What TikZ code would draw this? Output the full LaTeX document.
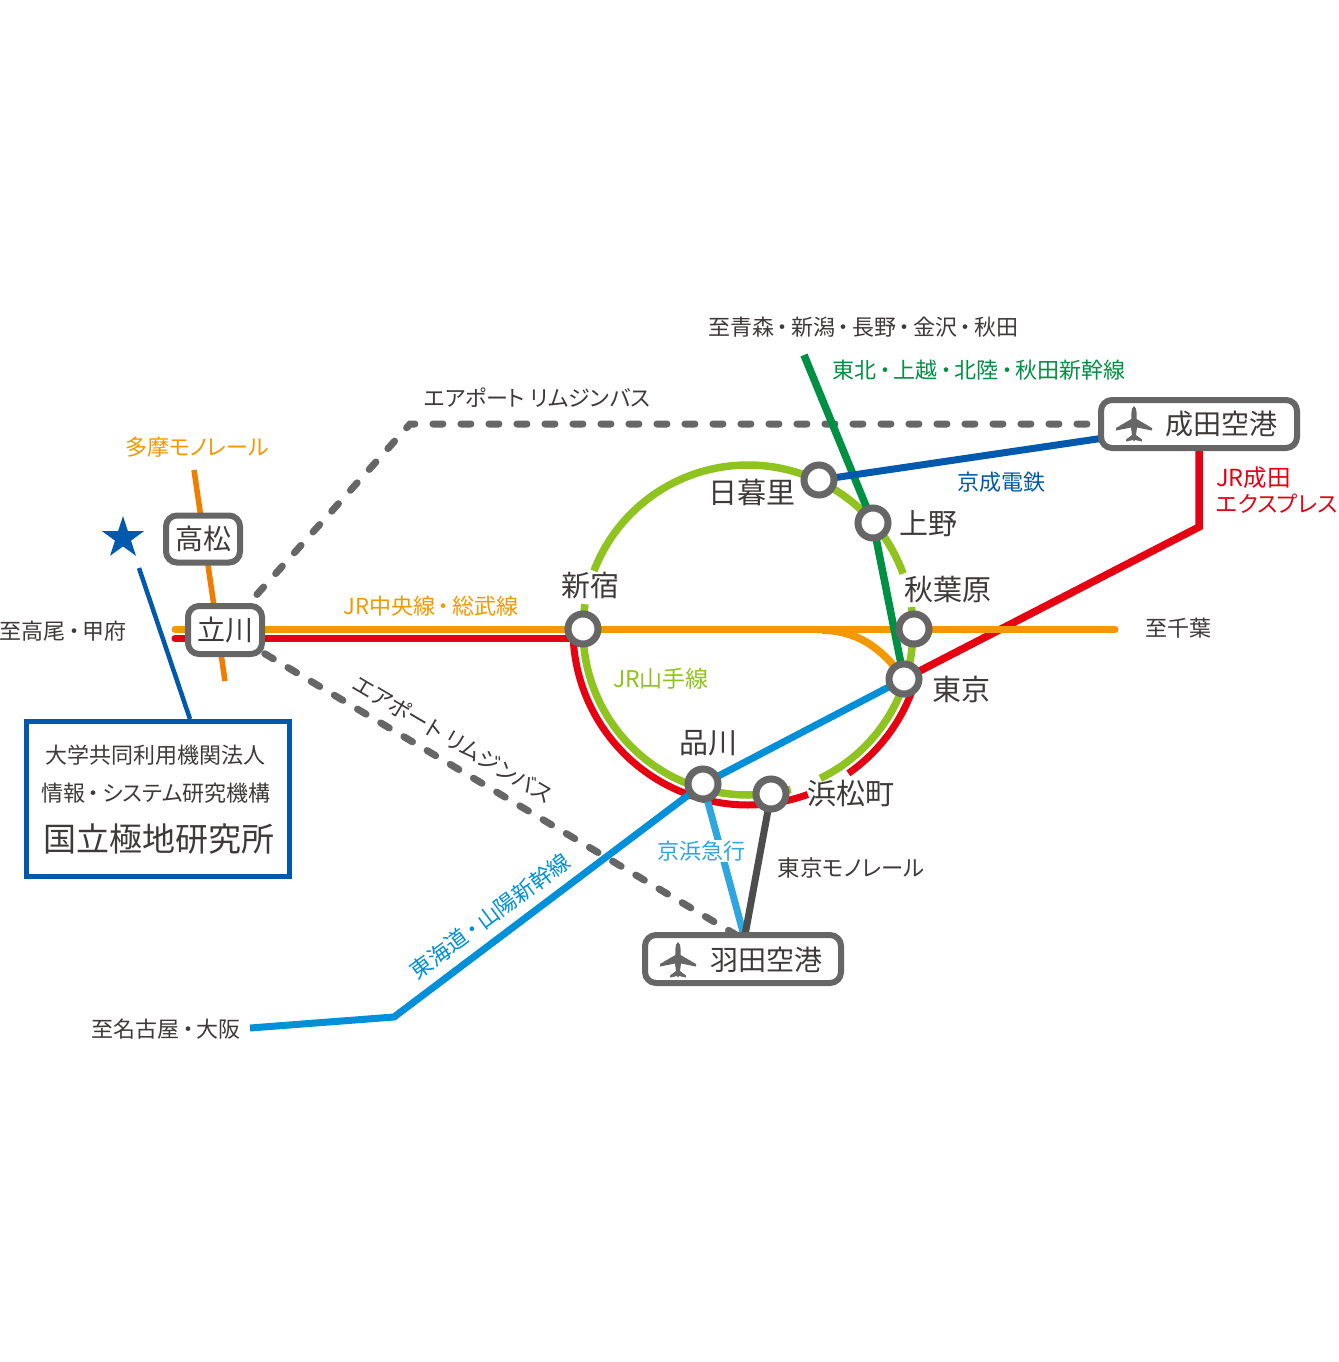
\documentclass[tikz,border=0pt]{standalone}
\usepackage{fontspec}
\setmainfont[RawFeature={+palt}]{Noto Sans CJK JP}
\usetikzlibrary{shapes.geometric,backgrounds}
\definecolor{cred}{HTML}{E60012}
\definecolor{corange}{HTML}{F39800}
\definecolor{cdorange}{HTML}{EF7D00}
\definecolor{cyama}{HTML}{8FC31F}
\definecolor{cshin}{HTML}{009044}
\definecolor{ckeisei}{HTML}{0059AC}
\definecolor{ctokaido}{HTML}{0090D9}
\definecolor{ckeikyu}{HTML}{2EA7E0}
\definecolor{cmono}{HTML}{4D4D4D}
\definecolor{cgray}{HTML}{666666}
\definecolor{ctext}{HTML}{3E3A39}
\newcommand{\fsz}[1]{\fontsize{#1pt}{#1pt}\selectfont}
\newcommand{\dotp}{\hspace{3pt}・\hspace{3pt}}
\newcommand{\planeat}[2]{%
  \fill[cgray,shift={(#1,#2)}] (0,-18) .. controls (1.8,-17) and (2.6,-14) .. (2.6,-11) -- (2.6,-5)
   -- (18,4) -- (18,6.5) -- (3,3.5) -- (2,11) -- (8,15.5) -- (8,17.5) -- (1,16) -- (0,17.5) -- (-1,16) -- (-8,17.5) -- (-8,15.5) -- (-2,11) -- (-3,3.5) -- (-18,6.5) -- (-18,4) -- (-2.6,-5) -- (-2.6,-11) .. controls (-2.6,-14) and (-1.8,-17) .. (0,-18) -- cycle;}
\newcommand{\yarc}[3]{plot[domain=#1:#2,samples=70,smooth] ({748+#3*cos(\x)},{630+#3*sin(\x)})}
\tikzset{
  stn/.style={circle,draw=cgray,fill=white,line width=7pt,minimum size=30pt,inner sep=0pt},
  rbox/.style={rectangle,rounded corners=11pt,draw=cgray,fill=white,line width=6pt,inner sep=0pt,text=ctext},
  lbl/.style={inner sep=0pt,text=ctext,font=\fsz{22}},
  big/.style={inner sep=0pt,text=ctext,font=\fsz{29}},
  rail/.style={line width=7.5pt},
  thin rail/.style={line width=7pt},
  bus/.style={line width=7pt,cgray,line cap=round},
}
\begin{document}
\begin{tikzpicture}[x=1pt,y=-1pt]
\useasboundingbox (0,0) rectangle (1338,1362);
% stations
\node[stn] (shinjuku) at (583,629) {};
\node[stn] (nippori) at (819,480) {};
\node[stn] (ueno) at (873,523) {};
\node[stn] (akiba) at (914,629) {};
\node[stn] (tokyo) at (904,679) {};
\node[stn] (shinagawa) at (703,784) {};
\node[stn] (hamamatsu) at (771,794) {};
\node[rbox,minimum width=74pt,minimum height=47pt,font=\fsz{28}] (takamatsu) at (203,539) {高松};
\node[rbox,minimum width=74pt,minimum height=48pt,font=\fsz{28}] (tachikawa) at (225,630) {立川};
\node[rbox,minimum width=196pt,minimum height=48pt] (narita) at (1199,424) {};
\node[rbox,minimum width=196pt,minimum height=48pt] (haneda) at (743,959) {};
\node[star,star points=5,star point ratio=2.618,fill=ckeisei,minimum size=44pt,inner sep=0pt] (mark) at (123,538) {};
\node[rectangle,draw=ckeisei,fill=white,line width=5pt,minimum width=263pt,minimum height=155pt,inner sep=0pt] (nipr) at (158,799) {};
% free ends
\coordinate (aomori) at (804,355);
\coordinate (nagoya) at (250,1028);
\coordinate (tokaidobend) at (394,1017);
\coordinate (exbend) at (1199,527);
\coordinate (busbend) at (410,424);
\coordinate (chibaend) at (1115,629.5);
\coordinate (westo) at (175,629.5);
\coordinate (westr) at (175,638.5);
\coordinate (tamatop) at (194,470);
\coordinate (tamabot) at (225,681);
\coordinate (starline) at (139,568);
\coordinate (hanedatop) at (743,932);
\coordinate (hanedabus) at (743,939);
\begin{pgfonlayer}{background}
\fill[white] (0,0) rectangle (1338,1362);
% dashed buses
\draw[bus,dash pattern=on 10pt off 18pt,dash phase=8.2pt] (tachikawa.center) -- (busbend) -- (narita.center);
\draw[bus,dash pattern=on 10pt off 17pt,dash phase=7.7pt] (tachikawa.center) -- (hanedabus);
% Yamanote
\draw[cyama,rail] \yarc{201}{340}{165};
\draw[cyama,rail] \yarc{-8}{64}{165};
\draw[cyama,rail] \yarc{75}{189}{165};
% red
\draw[cred,rail,line width=7pt] \yarc{18}{55}{175};
\draw[cred,rail,line width=7pt] \yarc{70}{177}{175};
\draw[cred,line width=7pt,line cap=round] (westr) -- (shinjuku.center |- westr);
\draw[cred,rail] (tokyo.center) -- (exbend) -- (narita.center);
% orange
\draw[corange,line width=7pt,line cap=round] (westo) -- (chibaend);
\draw[corange,rail] (822,630) .. controls (855,631) and (880,645) .. (tokyo.center);
% others
\draw[cshin,rail] (aomori) -- (ueno.center) -- (tokyo.center);
\draw[ckeisei,thin rail] (nippori.center) -- (narita.center);
\draw[ctokaido,thin rail] (tokyo.center) -- (shinagawa.center) -- (tokaidobend) -- (nagoya);
\draw[ckeikyu,thin rail] (shinagawa.center) -- (hanedatop);
\draw[cmono,thin rail] (hamamatsu.center) -- (745,935);
\draw[cdorange,line width=5.5pt] (tamatop) -- (tamabot);
\draw[ckeisei,line width=4.5pt] (starline) -- (nipr.north -| 190,0);
\end{pgfonlayer}
\planeat{1134}{424}
\planeat{678}{960}
% labels
\node[lbl] (t1) at (863,327) {至青森\dotp 新潟\dotp 長野\dotp 金沢\dotp 秋田};
\node[lbl,text=cshin] (t2) at (979,370) {東北\dotp 上越\dotp 北陸\dotp 秋田新幹線};
\node[lbl] (t3) at (537,398) {エアポート リムジンバス};
\node[lbl,text=corange] (t4) at (197,447) {多摩モノレール};
\node[big,font=\fsz{28}] (t5) at (1221,424) {成田空港};
\node[lbl,text=ckeisei] (t6) at (1001,482) {京成電鉄};
\node[big] (t7) at (752,492) {日暮里};
\node[big] (t8) at (928,524) {上野};
\node[big] (t9) at (590,586) {新宿};
\node[big] (t10) at (948,589) {秋葉原};
\node[big] (t11) at (961,689) {東京};
\node[lbl,text=corange] (t12) at (431,606) {JR中央線\dotp 総武線};
\node[lbl] (t13) at (1178,628) {至千葉};
\node[lbl] (t14) at (63,631) {至高尾\dotp 甲府};
\node[lbl,text=cred,anchor=west,font=\fsz{23.5}] (t15) at (1216,478) {JR成田};
\node[lbl,text=cred,anchor=west,font=\fsz{22.4}] (t16) at (1216,504) {エクスプレス};
\node[lbl,text=cyama,font=\fsz{23}] (t17) at (661,679) {JR山手線};
\node[big] (t18) at (708,743) {品川};
\node[big] (t19) at (851,793) {浜松町};
\node[lbl,text=ckeikyu,fill=white,inner sep=1pt] (t20) at (701,851) {京浜急行};
\node[lbl,font=\fsz{22.4}] (t21) at (851,868) {東京モノレール};
\node[big,font=\fsz{28}] (t22) at (766,960) {羽田空港};
\node[lbl,text=ctokaido,rotate=36.5] (t23) at (490,916) {東海道\dotp 山陽新幹線};
\node[lbl,rotate=-30.5] (t24) at (453,739) {エアポート リムジンバス};
\node[lbl] (t25) at (155,755) {大学共同利用機関法人};
\node[lbl] (t26) at (156,793) {情報\dotp システム研究機構};
\node[inner sep=0pt,text=ctext,font=\fsz{33}] (t27) at (159,839) {国立極地研究所};
\node[lbl] (t28) at (166,1029) {至名古屋\dotp 大阪};
\end{tikzpicture}
\end{document}
